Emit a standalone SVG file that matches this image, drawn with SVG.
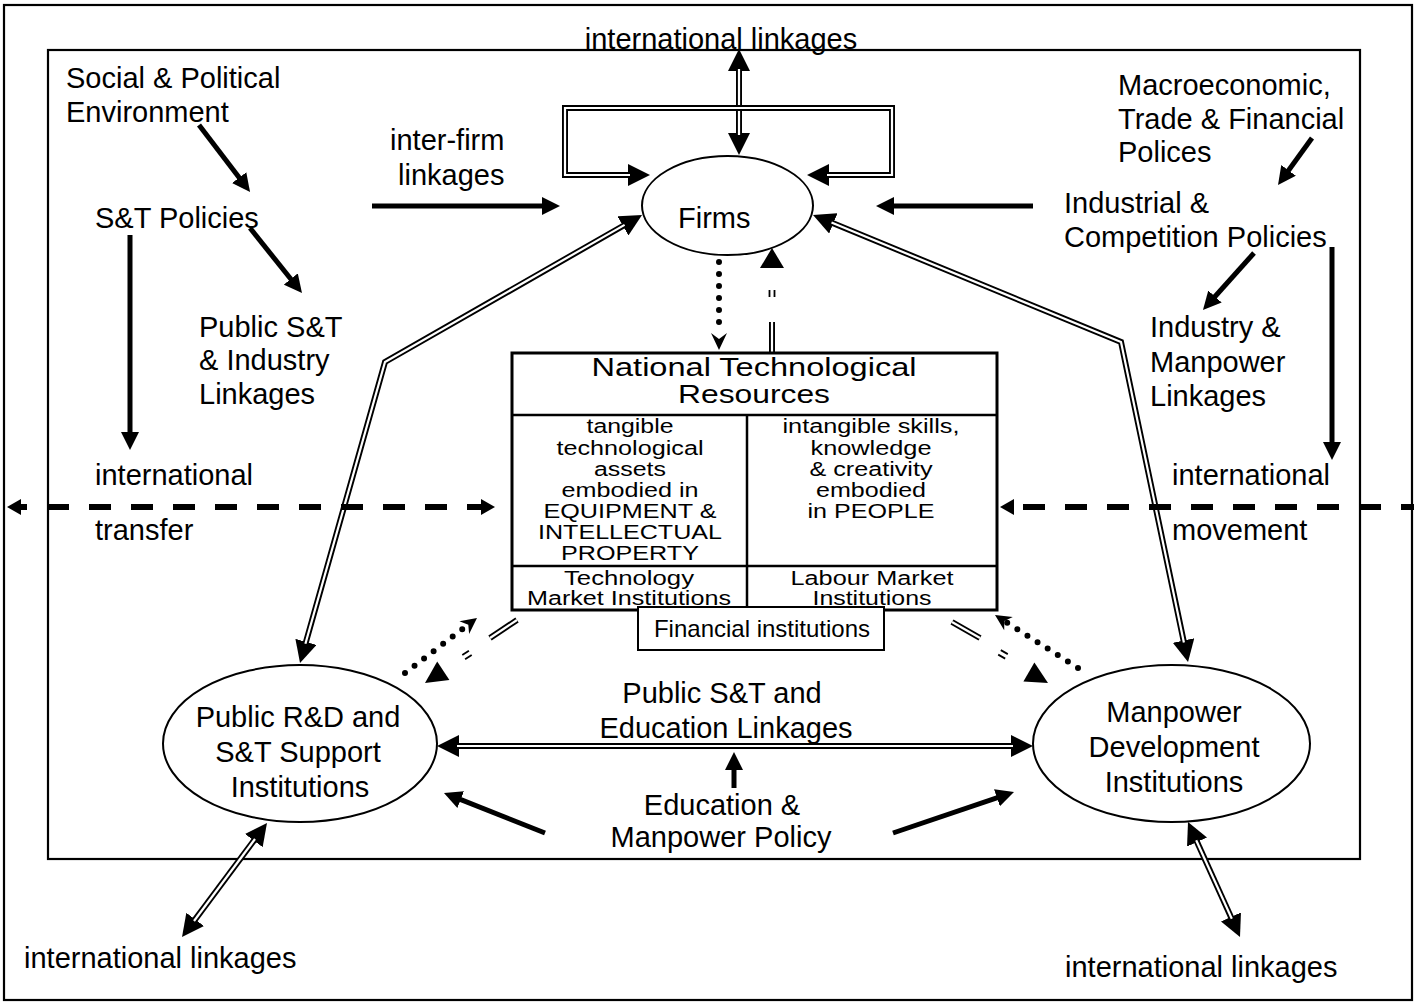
<svg xmlns="http://www.w3.org/2000/svg" width="1414" height="1003" viewBox="0 0 1414 1003">
<style>
.t{font-family:"Liberation Sans",Arial,sans-serif;font-size:29px;fill:#000}
.m{text-anchor:middle}
.b{font-family:"Liberation Sans",Arial,sans-serif;font-size:20px;fill:#000;text-anchor:middle}
.bt{font-family:"Liberation Sans",Arial,sans-serif;font-size:25px;fill:#000;text-anchor:middle}
.frame{fill:none;stroke:#000;stroke-width:2.2}
.node{fill:#fff;stroke:#000;stroke-width:2}
.dlb{fill:none;stroke:#000;stroke-width:6;stroke-linejoin:miter}
.dlh{marker-start:url(#dh);marker-end:url(#dh)}
.dle{marker-end:url(#dh)}
.dlw{fill:none;stroke:#fff;stroke-width:2.2;stroke-linejoin:miter}
.sol{fill:none;stroke:#000;stroke-width:5;marker-end:url(#sh)}
.dot{fill:none;stroke:#000;stroke-width:6;stroke-linecap:round;stroke-dasharray:0 12}
.dash{fill:none;stroke:#000;stroke-width:6;stroke-dasharray:22 20}
.tick{fill:none;stroke:#000;stroke-width:1.8}
</style>
<defs>
<marker id="dh" viewBox="0 0 22 22" markerWidth="22" markerHeight="22" refX="14" refY="11" orient="auto-start-reverse" markerUnits="userSpaceOnUse">
<path d="M0,0 L22,11 L0,22 z" fill="#000"/>
</marker>
<marker id="sh" viewBox="0 0 18 18" markerWidth="18" markerHeight="18" refX="10" refY="9" orient="auto" markerUnits="userSpaceOnUse">
<path d="M0,0 L18,9 L0,18 z" fill="#000"/>
</marker>
</defs>
<rect width="1414" height="1003" fill="#fff"/>
<rect class="frame" x="4" y="5" width="1408" height="995"/>
<rect class="frame" x="48" y="50" width="1312" height="809"/>

<g id="connectors">
<!-- top international linkages <-> firms -->
<path class="dlb dlh" d="M739,57 L739,147"/>
<path class="dlw" d="M739,69 L739,135"/>
<!-- inter-firm loop -->
<path class="dlb dlh" d="M642,175 L565,175 L565,108 L892,108 L892,175 L815,175"/>
<path class="dlw" d="M630,175 L565,175 L565,108 L892,108 L892,175 L827,175"/>
<!-- firms <-> public R&D -->
<path class="dlb dlh" d="M302.2,655.3 L385,362 L635.1,219"/>
<path class="dlw" d="M305.4,643.8 L385,362 L624.6,224.9"/>
<!-- firms <-> manpower -->
<path class="dlb dlh" d="M820.4,218 L1121,342 L1186.4,654.2"/>
<path class="dlw" d="M831.5,222.6 L1121,342 L1183.9,642.4"/>
<!-- public R&D <-> manpower -->
<path class="dlb dlh" d="M445,746 L1025,746"/>
<path class="dlw" d="M457,746 L1013,746"/>
<!-- bottom international linkages -->
<path class="dlb dlh" d="M262.2,829.4 L186.8,930.6"/>
<path class="dlw" d="M255,839 L194,921"/>
<path class="dlb dlh" d="M1191.3,829.3 L1236.7,929.7"/>
<path class="dlw" d="M1196.2,840.2 L1231.8,918.8"/>

<!-- solid policy arrows -->
<path class="sol" d="M199,125 L245.2,185.6"/>
<path class="sol" d="M250,228 L297,286.8"/>
<path class="sol" d="M130,235 L130,442"/>
<path class="sol" d="M372,206 L552,206"/>
<path class="sol" d="M1033,206 L884,206"/>
<path class="sol" d="M1312,138 L1282.7,178.5"/>
<path class="sol" d="M1254,253 L1208.3,304"/>
<path class="sol" d="M1332,247 L1332,452"/>
<path class="sol" d="M734,788 L734,760"/>
<path class="sol" d="M545,833 L451.4,795.9"/>
<path class="sol" d="M893,833 L1006.4,794.6"/>

<!-- NTR -> firms (broken double line) -->
<path class="dlb" d="M772,352 L772,322"/>
<path class="dlw" d="M772,352 L772,322"/>
<path class="tick" d="M769.5,290 L769.5,297 M774.5,290 L774.5,297"/>
<polygon points="772,248 760,268 784,268" fill="#000"/>
<!-- NTR -> public R&D (broken double line) -->
<path class="dlb" d="M517,620 L490,638"/>
<path class="dlw" d="M517,620 L490,638"/>
<path class="tick" d="M468.9,650.7 L462.3,655.1 M471.7,654.9 L465.1,659.3"/>
<polygon points="425,683 449.4,680 437.2,661.6" fill="#000"/>
<!-- NTR -> manpower (broken double line) -->
<path class="dlb" d="M952,622 L980,638"/>
<path class="dlw" d="M952,622 L980,638"/>
<path class="tick" d="M1000.8,650.1 L1007.8,654.1 M998.2,654.6 L1005.2,658.6"/>
<polygon points="1048,683 1023.4,681.6 1034.4,662.6" fill="#000"/>

<!-- dotted arrows -->
<path class="dot" d="M719,262 L719,334"/>
<polygon points="719,350 711,333 719,339 727,333" fill="#000"/>
<path class="dot" d="M405,673 L465.9,626.5"/>
<polygon points="477,618 469.1,634.1 468.3,624.7 459.4,621.3" fill="#000"/>
<path class="dot" d="M1078,668 L1006.8,622.5"/>
<polygon points="995,615 1012.8,616.9 1004.3,620.9 1004.2,630.3" fill="#000"/>

<!-- international transfer / movement dashed -->
<path class="dash" d="M17,507 L484,507" stroke-dashoffset="12"/>
<polygon points="7,507 21,499 21,515" fill="#000"/>
<polygon points="495,507 481,499 481,515" fill="#000"/>
<path class="dash" d="M1013,507 L1414,507" stroke-dashoffset="32"/>
<polygon points="1000,507 1014,499 1014,515" fill="#000"/>
</g>

<g id="firms">
<ellipse class="node" cx="727.5" cy="205.5" rx="85.5" ry="49.5"/>
<text class="t" x="678" y="228">Firms</text>
</g>

<g id="ntr">
<rect x="512" y="353" width="485" height="257" fill="#fff" stroke="#000" stroke-width="3"/>
<path d="M512,415 L997,415 M747,415 L747,610 M512,566 L997,566" stroke="#000" stroke-width="2.5" fill="none"/>
<text class="bt" x="754" y="376" textLength="325" lengthAdjust="spacingAndGlyphs">National Technological</text>
<text class="bt" x="754" y="403" textLength="152" lengthAdjust="spacingAndGlyphs">Resources</text>
<text class="b" x="630" y="433" textLength="87" lengthAdjust="spacingAndGlyphs">tangible</text>
<text class="b" x="630" y="455" textLength="147" lengthAdjust="spacingAndGlyphs">technological</text>
<text class="b" x="630" y="476" textLength="72" lengthAdjust="spacingAndGlyphs">assets</text>
<text class="b" x="630" y="497" textLength="137" lengthAdjust="spacingAndGlyphs">embodied in</text>
<text class="b" x="630" y="518" textLength="173" lengthAdjust="spacingAndGlyphs">EQUIPMENT &amp;</text>
<text class="b" x="630" y="539" textLength="184" lengthAdjust="spacingAndGlyphs">INTELLECTUAL</text>
<text class="b" x="630" y="560" textLength="138" lengthAdjust="spacingAndGlyphs">PROPERTY</text>
<text class="b" x="871" y="433" textLength="177" lengthAdjust="spacingAndGlyphs">intangible skills,</text>
<text class="b" x="871" y="455" textLength="121" lengthAdjust="spacingAndGlyphs">knowledge</text>
<text class="b" x="871" y="476" textLength="123" lengthAdjust="spacingAndGlyphs">&amp; creativity</text>
<text class="b" x="871" y="497" textLength="110" lengthAdjust="spacingAndGlyphs">embodied</text>
<text class="b" x="871" y="518" textLength="127" lengthAdjust="spacingAndGlyphs">in PEOPLE</text>
<text class="b" x="629" y="585" textLength="130" lengthAdjust="spacingAndGlyphs">Technology</text>
<text class="b" x="629" y="605" textLength="204" lengthAdjust="spacingAndGlyphs">Market Institutions</text>
<text class="b" x="872" y="585" textLength="163" lengthAdjust="spacingAndGlyphs">Labour Market</text>
<text class="b" x="872" y="605" textLength="119" lengthAdjust="spacingAndGlyphs">Institutions</text>
</g>

<g id="financial">
<rect x="638" y="607" width="246" height="43" fill="#fff" stroke="#000" stroke-width="2"/>
<text class="t m" x="762" y="637" style="font-size:24px">Financial institutions</text>
</g>

<g id="public-rd">
<ellipse class="node" cx="300" cy="743.5" rx="137" ry="78.5"/>
<text class="t m" x="298" y="727">Public R&amp;D and</text>
<text class="t m" x="298" y="762">S&amp;T Support</text>
<text class="t m" x="300" y="797">Institutions</text>
</g>

<g id="manpower">
<ellipse class="node" cx="1171.5" cy="743.5" rx="138.5" ry="78.5"/>
<text class="t m" x="1174" y="722">Manpower</text>
<text class="t m" x="1174" y="757">Development</text>
<text class="t m" x="1174" y="792">Institutions</text>
</g>

<g id="labels">
<text class="t m" x="721" y="49">international linkages</text>
<text class="t" x="66" y="88">Social &amp; Political</text>
<text class="t" x="66" y="122">Environment</text>
<text class="t" x="390" y="150">inter-firm</text>
<text class="t" x="398" y="185">linkages</text>
<text class="t" x="95" y="228">S&amp;T Policies</text>
<text class="t" x="199" y="337">Public S&amp;T</text>
<text class="t" x="199" y="370">&amp; Industry</text>
<text class="t" x="199" y="404">Linkages</text>
<text class="t" x="95" y="485">international</text>
<text class="t" x="95" y="540">transfer</text>
<text class="t" x="1118" y="95">Macroeconomic,</text>
<text class="t" x="1118" y="129">Trade &amp; Financial</text>
<text class="t" x="1118" y="162">Polices</text>
<text class="t" x="1064" y="213">Industrial &amp;</text>
<text class="t" x="1064" y="247">Competition Policies</text>
<text class="t" x="1150" y="337">Industry &amp;</text>
<text class="t" x="1150" y="372">Manpower</text>
<text class="t" x="1150" y="406">Linkages</text>
<text class="t" x="1172" y="485">international</text>
<text class="t" x="1172" y="540">movement</text>
<text class="t m" x="722" y="703">Public S&amp;T and</text>
<text class="t m" x="726" y="738">Education Linkages</text>
<text class="t m" x="722" y="815">Education &amp;</text>
<text class="t m" x="721" y="847">Manpower Policy</text>
<text class="t" x="24" y="968">international linkages</text>
<text class="t" x="1065" y="977">international linkages</text>
</g>
</svg>
